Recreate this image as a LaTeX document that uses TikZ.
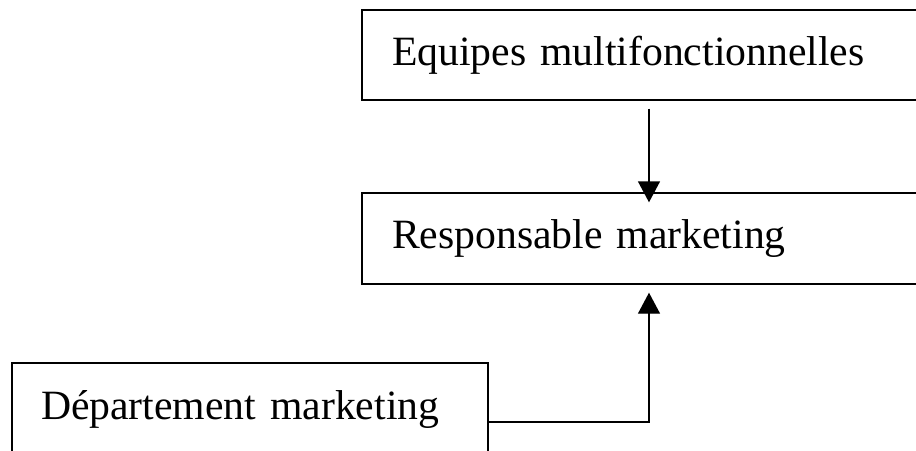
\documentclass[tikz,border=0pt]{standalone}
\usepackage{fontspec}
\setmainfont{Liberation Serif}
\usetikzlibrary{arrows.meta}

\tikzset{
  orgbox/.style={draw, line width=1.4pt, align=left, inner ysep=0pt,
    font=\fontsize{41.7}{48}\selectfont},
  flow/.style={line width=1.4pt, -{Triangle[width=22pt,length=21pt]}}
}

\begin{document}
\begin{tikzpicture}[x=1pt,y=-1pt]
  \useasboundingbox (0,0) rectangle (916,450);

  \node[orgbox, text width=510pt, inner xsep=30pt, minimum height=90pt] (equipes) at (647,55) {Equipes multifonctionnelles};
  \node[orgbox, text width=510pt, inner xsep=30pt, minimum height=91pt] (responsable) at (647,238.5) {Responsable marketing};
  \node[orgbox, text width=418pt, inner xsep=29pt, minimum height=110pt, text depth=26pt] (departement) at (250,418) {D\'epartement marketing};

  \draw[flow, shorten <=8pt, shorten >=-10pt] ([xshift=2pt]equipes.south) -- ([xshift=2pt]responsable.north);
  \draw[flow, shorten >=8pt] ([yshift=-4pt]departement.east) -| ([xshift=2pt]responsable.south);
\end{tikzpicture}
\end{document}
